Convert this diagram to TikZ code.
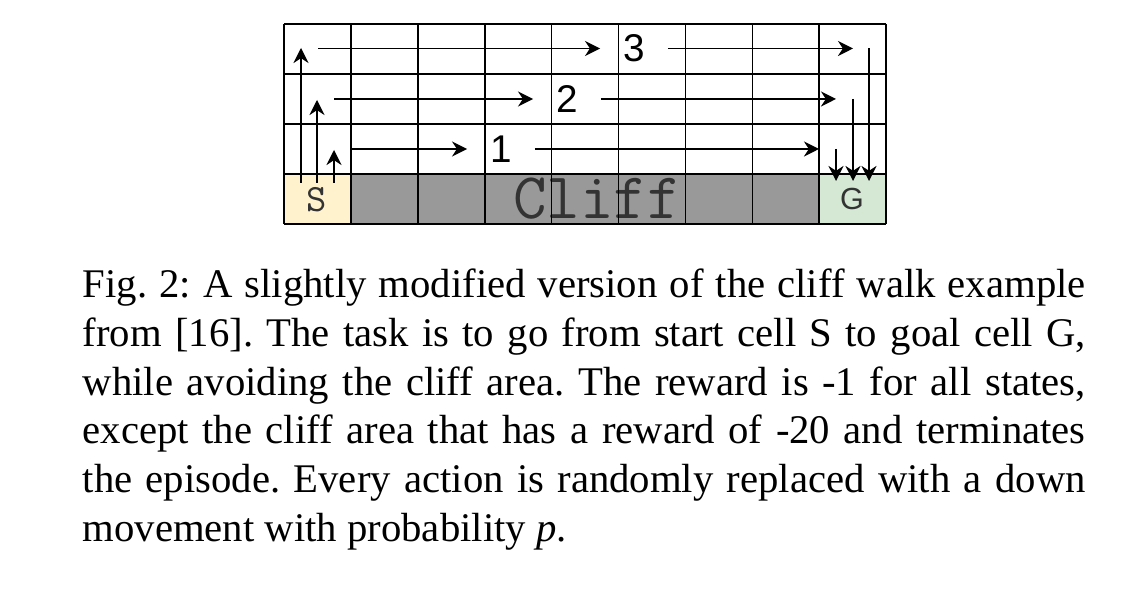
\documentclass[tikz,border=0pt]{standalone}
\usepackage{fontspec}
\setmainfont{Liberation Serif}
\setsansfont{Liberation Sans}
\usetikzlibrary{arrows.meta}
\definecolor{startfill}{HTML}{FFF2CC}
\definecolor{cliffgray}{HTML}{999999}
\definecolor{goalfill}{HTML}{D5E8D4}
\definecolor{darktext}{HTML}{333333}

\begin{document}
\begin{tikzpicture}[>={Stealth[length=3.7pt,width=3.7pt]}, x=0.2457pt, y=-0.2457pt,
  walk/.style={->, line width=0.45pt},
  steplabel/.style={font=\sffamily\fontsize{9.5}{9.5}\selectfont, inner xsep=5.5pt, inner ysep=0pt}]
\useasboundingbox (0,0) rectangle (1137,589);

% bottom row
\fill[startfill] (284,174) rectangle (351,224);
\fill[cliffgray] (351,174) rectangle (819,224);
\fill[goalfill] (819,174) rectangle (886,224);

\node[font=\ttfamily\fontsize{16}{16}\selectfont, text=darktext, inner sep=0pt] (cliff) at (597,199) {Cliff};
\node[font=\ttfamily\fontsize{9.5}{9.5}\selectfont, text=darktext, inner sep=0pt] (start) at (317,199.5) {S};
\node[font=\sffamily\fontsize{7.5}{7.5}\selectfont, text=darktext, inner sep=0pt] (goal) at (852,199) {G};

% grid
\foreach \i in {0,...,9}
  \draw[line width=0.4pt] ({284+\i*66.9},24) -- ({284+\i*66.9},224);
\foreach \y in {24,74,124,174,224}
  \draw[line width=0.4pt] (284,\y) -- (886,\y);

% step labels
\node[steplabel] (one) at (501,149) {1};
\node[steplabel] (two) at (567,99) {2};
\node[steplabel] (three) at (634,48.5) {3};

% up from S
\coordinate (upa) at (334,183); \coordinate (upatip) at (334,150);
\coordinate (upb) at (317,183); \coordinate (upbtip) at (317,100);
\coordinate (upc) at (301,183); \coordinate (upctip) at (301,48);
\draw[walk] (upa) -- (upatip);
\draw[walk] (upb) -- (upbtip);
\draw[walk] (upc) -- (upctip);

% across
\coordinate (rowa) at (351,149); \coordinate (rowaend) at (819,149);
\coordinate (rowb) at (334,99); \coordinate (rowbend) at (836,99);
\coordinate (rowc) at (318,48.5); \coordinate (rowcend) at (853,48.5);
\draw[walk] (rowa) -- (one);
\draw[walk] (one) -- (rowaend);
\draw[walk] (rowb) -- (two);
\draw[walk] (two) -- (rowbend);
\draw[walk] (rowc) -- (three);
\draw[walk] (three) -- (rowcend);

% down into G
\coordinate (dna) at (836,149); \coordinate (dnatip) at (836,181);
\coordinate (dnb) at (853,99); \coordinate (dnbtip) at (853,181);
\coordinate (dnc) at (869,48.5); \coordinate (dnctip) at (869,181);
\draw[walk] (dna) -- (dnatip);
\draw[walk] (dnb) -- (dnbtip);
\draw[walk] (dnc) -- (dnctip);

% caption
\node[anchor=north west, inner sep=0pt, text width=246.4pt, align=justify,
  font=\fontsize{10}{12}\selectfont] (caption) at (82,268)
  {\frenchspacing Fig. 2: A slightly modified version of the cliff walk example\linebreak
   from [16]. The task is to go from start cell S to goal cell G,\linebreak
   while avoiding the cliff area. The reward is -1 for all states,\linebreak
   except the cliff area that has a reward of -20 and terminates\linebreak
   the episode. Every action is randomly replaced with a down\linebreak
   movement with probability \textit{p}.};

\end{tikzpicture}
\end{document}
